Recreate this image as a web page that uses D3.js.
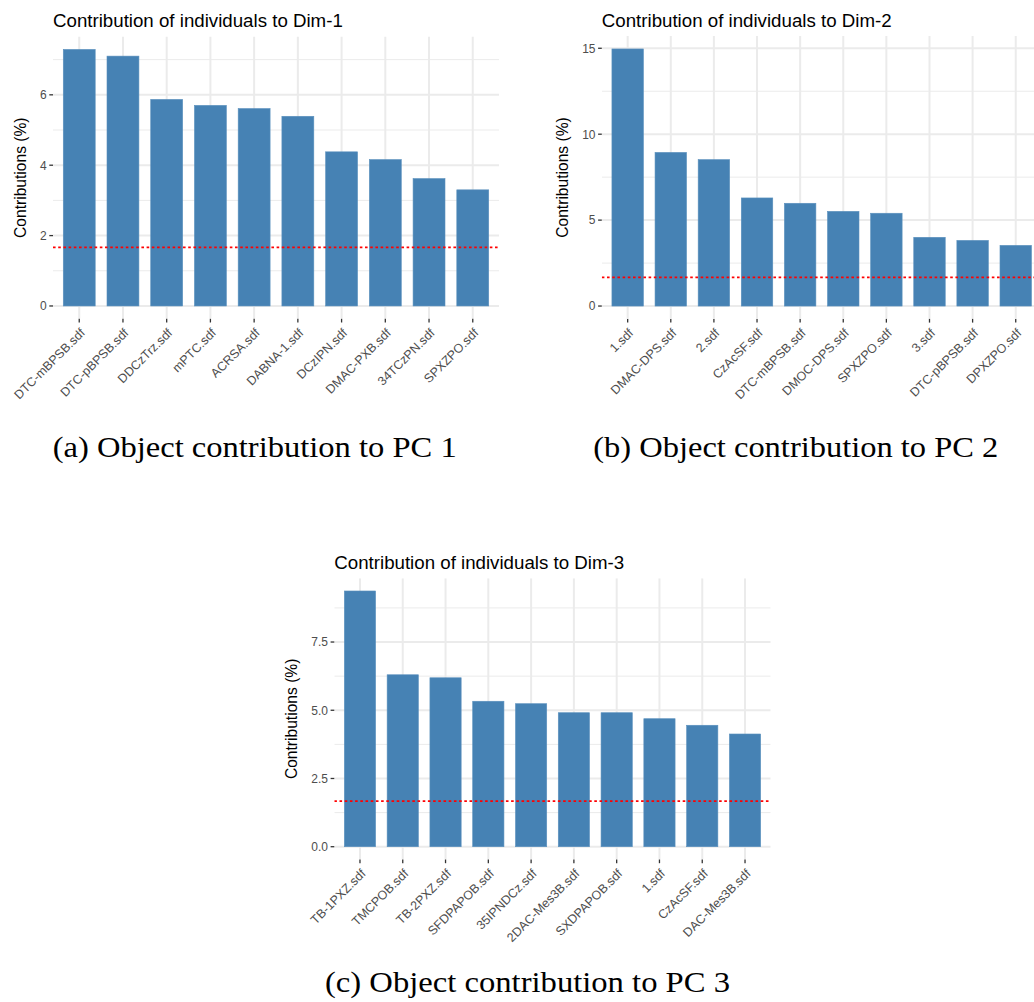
<!DOCTYPE html>
<html>
<head>
<meta charset="utf-8">
<script src="https://cdn.jsdelivr.net/npm/d3@7"></script>
<style>
  html, body { margin: 0; padding: 0; background: #fff; }
  svg { display: block; }
  text { font-family: "Liberation Sans", Arial, sans-serif; }
</style>
</head>
<body>
<svg id="chart" width="1034" height="1002"></svg>
<script>
// data
const dim1Names = ["DTC-mBPSB.sdf", "DTC-pBPSB.sdf", "DDCzTrz.sdf", "mPTC.sdf", "ACRSA.sdf",
  "DABNA-1.sdf", "DCzIPN.sdf", "DMAC-PXB.sdf", "34TCzPN.sdf", "SPXZPO.sdf"];
const dim1Values = [7.29, 7.10, 5.87, 5.70, 5.61, 5.39, 4.38, 4.16, 3.62, 3.30];
const dim1Ticks = [0, 2, 4, 6];

const dim2Names = ["1.sdf", "DMAC-DPS.sdf", "2.sdf", "CzAcSF.sdf", "DTC-mBPSB.sdf",
  "DMOC-DPS.sdf", "SPXZPO.sdf", "3.sdf", "DTC-pBPSB.sdf", "DPXZPO.sdf"];
const dim2Values = [14.96, 8.94, 8.52, 6.29, 5.98, 5.51, 5.40, 4.00, 3.82, 3.53];
const dim2Ticks = [0, 5, 10, 15];

const dim3Names = ["TB-1PXZ.sdf", "TMCPOB.sdf", "TB-2PXZ.sdf", "SFDPAPOB.sdf", "35IPNDCz.sdf",
  "2DAC-Mes3B.sdf", "SXDPAPOB.sdf", "1.sdf", "CzAcSF.sdf", "DAC-Mes3B.sdf"];
const dim3Values = [9.37, 6.30, 6.19, 5.33, 5.24, 4.91, 4.91, 4.69, 4.45, 4.13];
const dim3Ticks = [0, 2.5, 5, 7.5];

const expectedContrib = 1.667;   // red reference line

const captions = ["(a) Object contribution to PC 1", "(b) Object contribution to PC 2",
  "(c) Object contribution to PC 3"];

const svg = d3.select("#chart");

function drawPanel(opt) {
  const g = svg.append("g");
  const maxV = d3.max(opt.values);

  const x = d3.scaleBand()
    .domain(opt.names)
    .range([opt.left, opt.right])
    .paddingInner(0.27)
    .paddingOuter(0.235);

  const y = d3.scaleLinear()
    .domain([-0.05 * maxV, 1.05 * maxV])
    .range([opt.bottom, opt.top]);

  const clip = "clip" + opt.id;
  svg.append("clipPath").attr("id", clip)
    .append("rect")
    .attr("x", opt.left).attr("y", opt.top)
    .attr("width", opt.right - opt.left).attr("height", opt.bottom - opt.top);

  const plot = g.append("g").attr("clip-path", "url(#" + clip + ")");

  // minor grid (midpoints between major ticks)
  const step = opt.ticks[1] - opt.ticks[0];
  const minors = [];
  for (let v = opt.ticks[0] + step / 2; v < y.domain()[1]; v += step) minors.push(v);
  plot.selectAll(".minor").data(minors).enter().append("line")
    .attr("x1", opt.left).attr("x2", opt.right)
    .attr("y1", d => y(d)).attr("y2", d => y(d))
    .attr("stroke", "#ebebeb").attr("stroke-width", 1);

  plot.selectAll(".hmajor").data(opt.ticks).enter().append("line")
    .attr("x1", opt.left).attr("x2", opt.right)
    .attr("y1", d => y(d)).attr("y2", d => y(d))
    .attr("stroke", "#ebebeb").attr("stroke-width", 2);

  plot.selectAll(".vmajor").data(opt.names).enter().append("line")
    .attr("x1", d => x(d) + x.bandwidth() / 2).attr("x2", d => x(d) + x.bandwidth() / 2)
    .attr("y1", opt.top).attr("y2", opt.bottom)
    .attr("stroke", "#ebebeb").attr("stroke-width", 2);

  // bars
  plot.selectAll(".bar").data(opt.values).enter().append("rect")
    .attr("x", (d, i) => x(opt.names[i]))
    .attr("width", x.bandwidth())
    .attr("y", d => y(d))
    .attr("height", d => y(0) - y(d))
    .attr("fill", "#4682b4")
    .attr("stroke", "#5a90bd")
    .attr("stroke-width", 0.6);

  // expected average line
  plot.append("line")
    .attr("x1", opt.left).attr("x2", opt.right)
    .attr("y1", y(expectedContrib)).attr("y2", y(expectedContrib))
    .attr("stroke", "red").attr("stroke-width", 1.8)
    .attr("stroke-dasharray", "2.6,2.6");

  // y axis ticks + labels
  const fmt = opt.ticks.some(t => t % 1 !== 0) ? d3.format(".1f") : d3.format("d");
  g.selectAll(".ytick").data(opt.ticks).enter().append("line")
    .attr("x1", opt.left - 3.7).attr("x2", opt.left)
    .attr("y1", d => y(d)).attr("y2", d => y(d))
    .attr("stroke", "#333").attr("stroke-width", 1.3);
  g.selectAll(".ylab").data(opt.ticks).enter().append("text")
    .attr("x", opt.left - 6.3)
    .attr("y", d => y(d))
    .attr("dy", "0.36em")
    .attr("text-anchor", "end")
    .attr("font-size", 12)
    .attr("fill", "#4d4d4d")
    .text(d => fmt(d));

  // x axis ticks + rotated labels
  g.selectAll(".xtick").data(opt.names).enter().append("line")
    .attr("x1", d => x(d) + x.bandwidth() / 2).attr("x2", d => x(d) + x.bandwidth() / 2)
    .attr("y1", opt.bottom).attr("y2", opt.bottom + 3.7)
    .attr("stroke", "#333").attr("stroke-width", 1.3);
  g.selectAll(".xlab").data(opt.names).enter().append("text")
    .attr("transform", d => "translate(" + (x(d) + x.bandwidth() / 2) + "," + (opt.bottom + 8.5) + ") rotate(-45)")
    .attr("dy", "0.72em")
    .attr("text-anchor", "end")
    .attr("font-size", 12.5)
    .attr("fill", "#4d4d4d")
    .text(d => d);

  // titles
  g.append("text")
    .attr("x", opt.left).attr("y", opt.titleY)
    .attr("font-size", 18.7)
    .attr("fill", "#000")
    .text(opt.title);

  g.append("text")
    .attr("transform", "translate(" + opt.yTitleX + "," + ((opt.top + opt.bottom) / 2) + ") rotate(-90)")
    .attr("text-anchor", "middle")
    .attr("font-size", 15.6)
    .attr("fill", "#000")
    .text("Contributions (%)");

  svg.append("text")
    .attr("x", opt.capX).attr("y", opt.capY)
    .attr("textLength", opt.capW)
    .attr("lengthAdjust", "spacingAndGlyphs")
    .attr("font-size", 29)
    .style("font-family", "'Liberation Serif', 'DejaVu Serif', serif")
    .attr("fill", "#000")
    .text(opt.caption);
}

drawPanel({
  id: 1, names: dim1Names, values: dim1Values, ticks: dim1Ticks,
  title: "Contribution of individuals to Dim-1",
  left: 53, right: 499, top: 36.6, bottom: 318.8,
  titleY: 26.5, yTitleX: 26,
  caption: captions[0], capX: 52.7, capY: 456.5, capW: 404
});

drawPanel({
  id: 2, names: dim2Names, values: dim2Values, ticks: dim2Ticks,
  title: "Contribution of individuals to Dim-2",
  left: 601.8, right: 1041.6, top: 36.1, bottom: 318.9,
  titleY: 26.5, yTitleX: 568,
  caption: captions[1], capX: 593.3, capY: 456.5, capW: 405
});

drawPanel({
  id: 3, names: dim3Names, values: dim3Values, ticks: dim3Ticks,
  title: "Contribution of individuals to Dim-3",
  left: 334.3, right: 770.7, top: 578.2, bottom: 859.5,
  titleY: 569, yTitleX: 296.5,
  caption: captions[2], capX: 325, capY: 992, capW: 405
});
</script>
</body>
</html>
